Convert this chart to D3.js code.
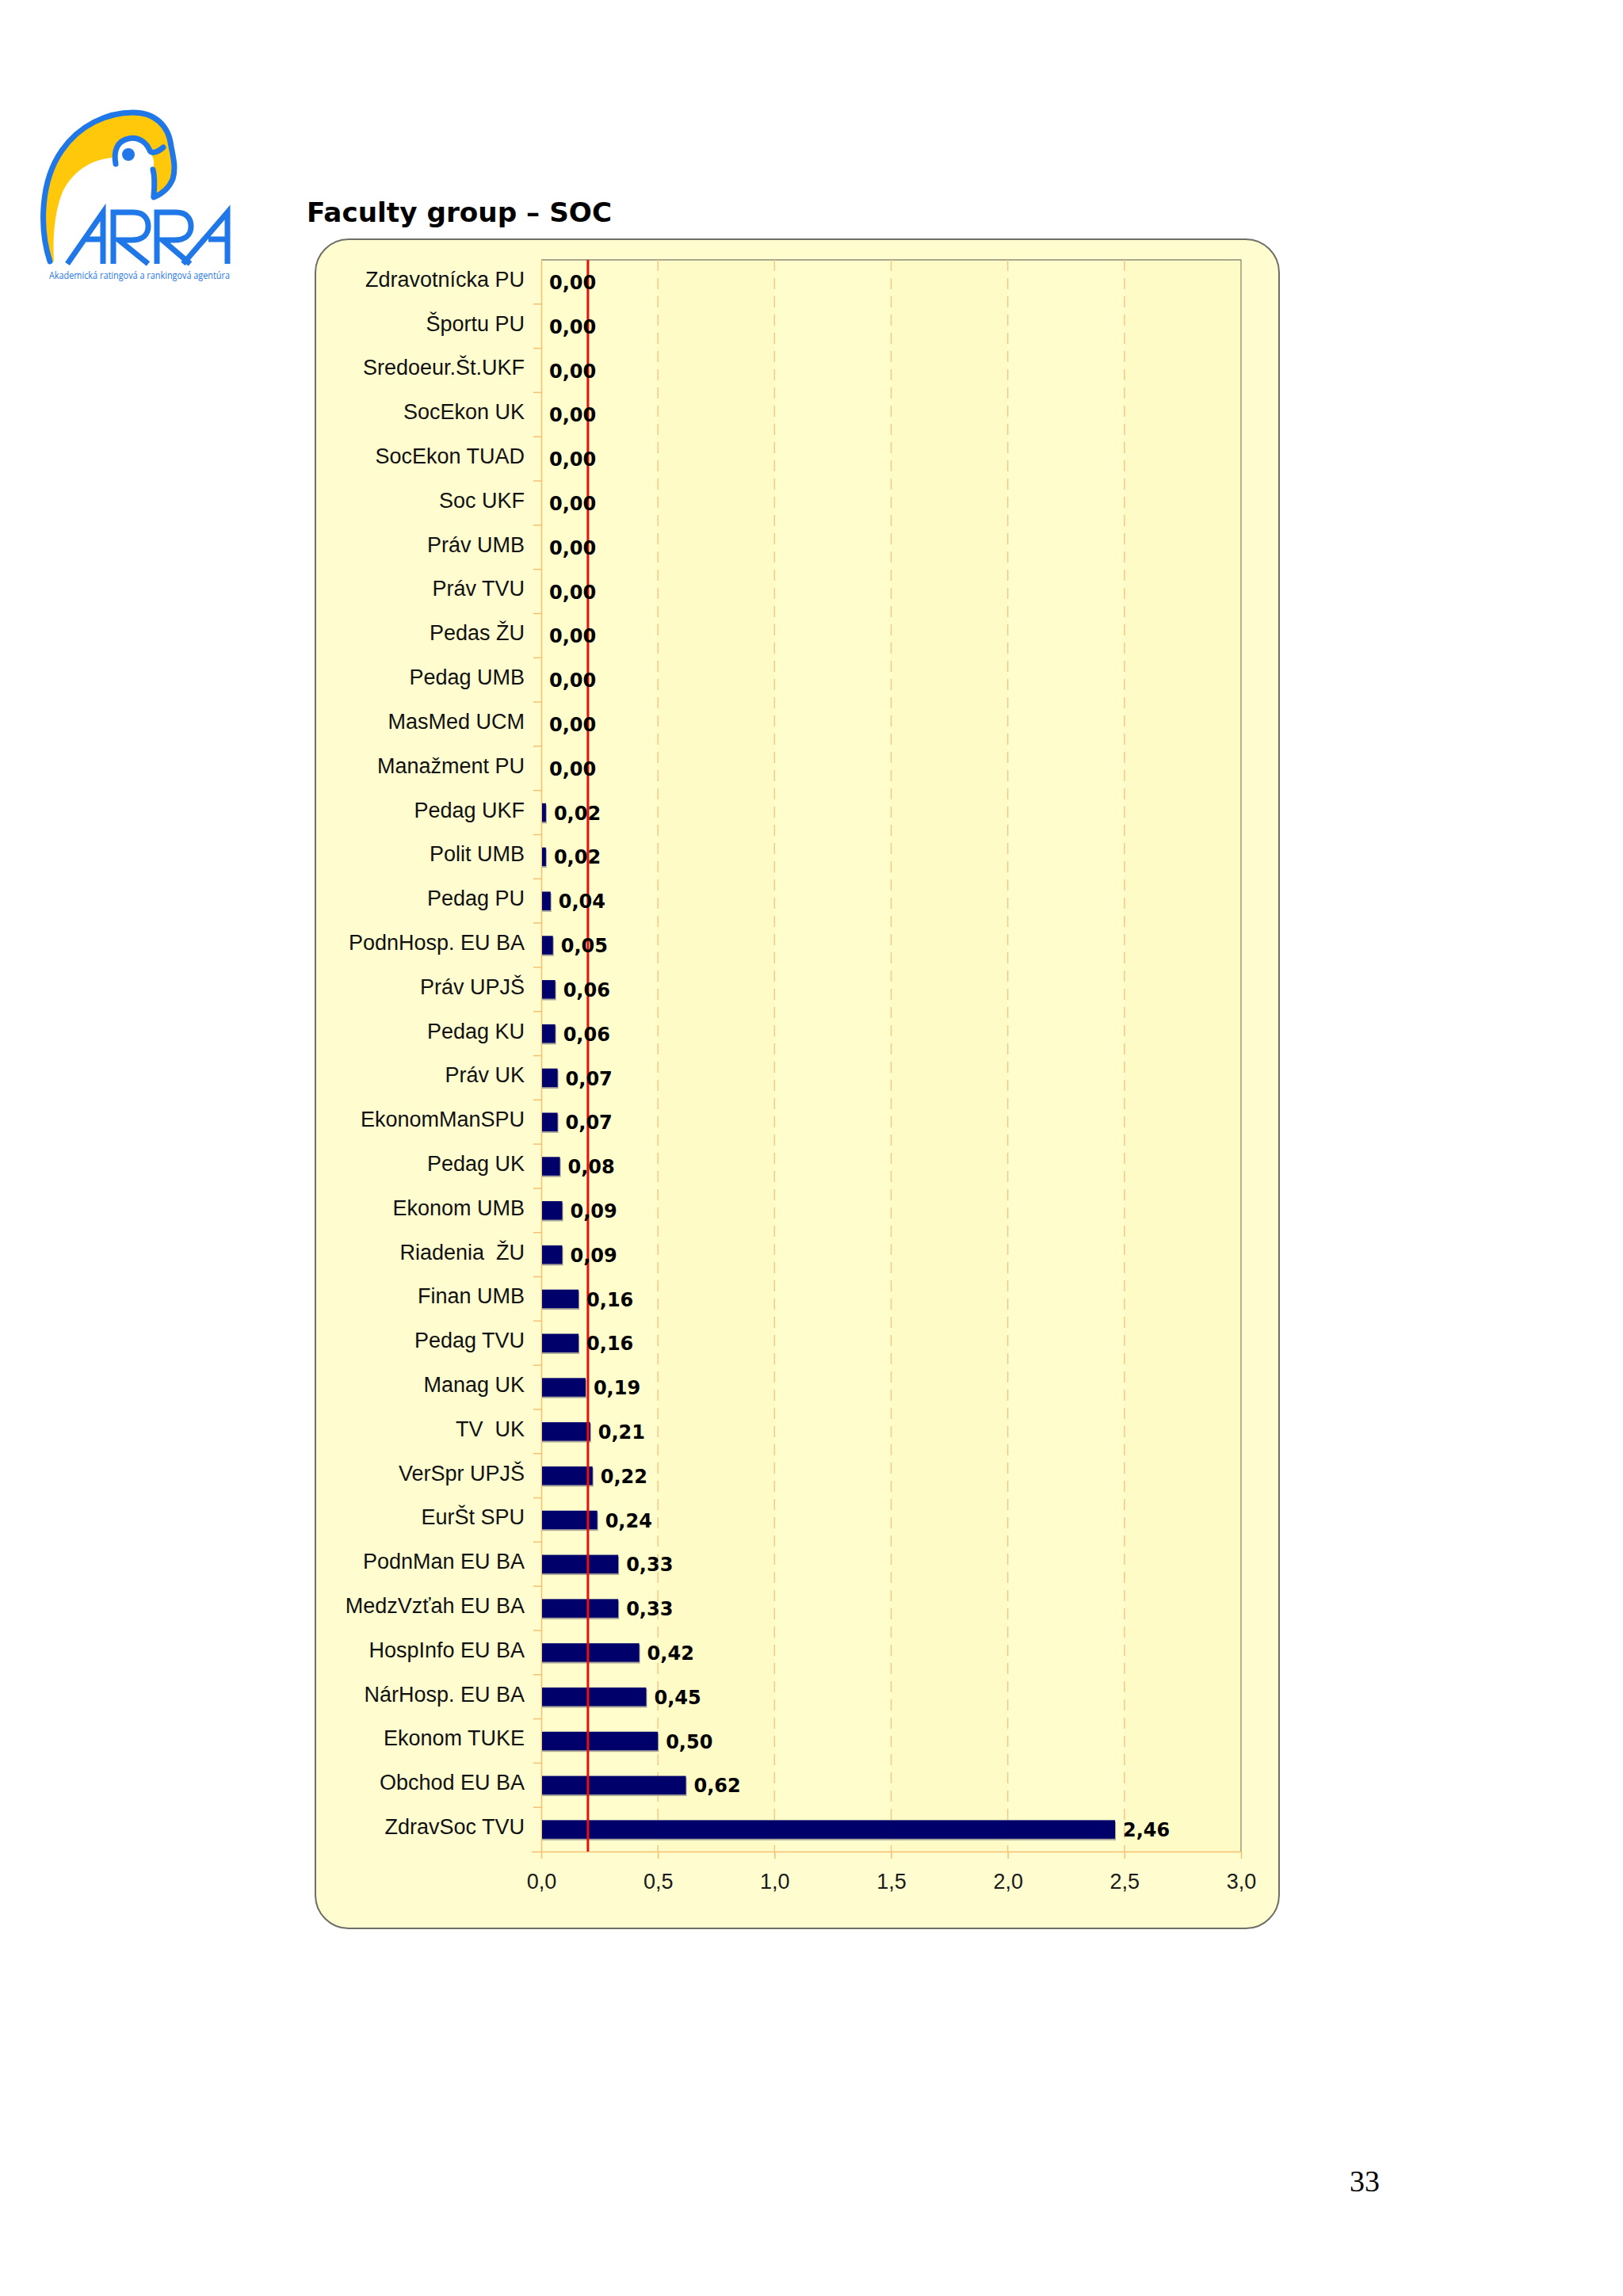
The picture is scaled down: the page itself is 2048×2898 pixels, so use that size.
<!DOCTYPE html>
<html>
<head>
<meta charset="utf-8">
<script src="https://cdn.jsdelivr.net/npm/d3@7"></script>
<style>
  html, body { margin: 0; padding: 0; background: #ffffff; }
  svg { display: block; }
</style>
</head>
<body>
<svg id="page" width="2048" height="2898"></svg>
<script>
// ---------------- DATA ----------------
const categories = [
  "Zdravotnícka PU", "Športu PU", "Sredoeur.Št.UKF", "SocEkon UK", "SocEkon TUAD",
  "Soc UKF", "Práv UMB", "Práv TVU", "Pedas ŽU", "Pedag UMB", "MasMed UCM",
  "Manažment PU", "Pedag UKF", "Polit UMB", "Pedag PU", "PodnHosp. EU BA",
  "Práv UPJŠ", "Pedag KU", "Práv UK", "EkonomManSPU", "Pedag UK", "Ekonom UMB",
  "Riadenia  ŽU", "Finan UMB", "Pedag TVU", "Manag UK", "TV  UK", "VerSpr UPJŠ",
  "EurŠt SPU", "PodnMan EU BA", "MedzVzťah EU BA", "HospInfo EU BA",
  "NárHosp. EU BA", "Ekonom TUKE", "Obchod EU BA", "ZdravSoc TVU"
];
const values = [
  0.00, 0.00, 0.00, 0.00, 0.00,
  0.00, 0.00, 0.00, 0.00, 0.00, 0.00,
  0.00, 0.02, 0.02, 0.04, 0.05,
  0.06, 0.06, 0.07, 0.07, 0.08, 0.09,
  0.09, 0.16, 0.16, 0.19, 0.21, 0.22,
  0.24, 0.33, 0.33, 0.42,
  0.45, 0.50, 0.62, 2.46
];
const xTicks = [0, 0.5, 1.0, 1.5, 2.0, 2.5, 3.0];
const referenceValue = [0.2];
const titleText = "Faculty group – SOC";
const pageNumber = "33";
const logoTagline = "Akademická ratingová a rankingová agentúra";

// ---------------- LAYOUT ----------------
const svg = d3.select("#page");
const plot = { left: 683, right: 1566, top: 328, bottom: 2337 };
const box = { x: 398, y: 302, w: 1614 - 398, h: 2434 - 302, r: 42 };

const x = d3.scaleLinear().domain([0, 3]).range([plot.left, plot.right]);
const y = d3.scaleBand().domain(categories).range([plot.top, plot.bottom])
  .paddingInner(0.58).paddingOuter(0.29);
const fmt = d => d.toFixed(1).replace(".", ",");
const fmt2 = d => d.toFixed(2).replace(".", ",");

// ---------------- LOGO ----------------
const blue = "#1f77e8", yellow = "#ffc80a";
const logo = svg.append("g").attr("class", "logo");
logo.append("path")
  .attr("d", "M63,330 C50,290 50,230 78,190 C100,158 135,142 168,142 C195,142 213,158 216,185 C219,200 222,212 218,226 C213,238 204,245 194,249 C192,235 192,222 193,212 C196,204 193,197 188,190 C182,180 172,174 162,175 C150,176 143,185 144,199 C120,200 95,212 80,240 C70,262 66,295 68,330 Z")
  .attr("fill", yellow);
logo.append("path")
  .attr("d", "M63,330 C50,290 50,230 78,190 C100,158 135,142 168,142 C195,142 213,158 216,185 C219,200 222,212 218,226 C213,238 204,245 194,249")
  .attr("fill", "none").attr("stroke", blue).attr("stroke-width", 7).attr("stroke-linecap", "round");
logo.append("path")
  .attr("d", "M146,207 C143,190 148,178 162,175 C175,172 185,180 189,190 C191,194 198,193 206,186")
  .attr("fill", "none").attr("stroke", blue).attr("stroke-width", 7).attr("stroke-linecap", "round");
logo.append("path")
  .attr("d", "M193,214 C196,225 195,236 194,247")
  .attr("fill", "none").attr("stroke", blue).attr("stroke-width", 7).attr("stroke-linecap", "round");
logo.append("circle").attr("cx", 162).attr("cy", 195).attr("r", 8).attr("fill", blue);
const letters = [
  "M85,333 L130,268 L130,333 M108,302 L130,302",
  "M143,333 L143,268 L168,268 C182,268 187,276 187,286 C187,296 180,303 166,303 L150,303 L187,333",
  "M198,333 L198,268 L222,268 C236,268 241,276 241,286 C241,296 234,303 220,303 L205,303 L240,333",
  "M231,333 L287,268 L287,333 M263,302 L287,302"
];
logo.selectAll("path.letter").data(letters).join("path")
  .attr("class", "letter").attr("d", d => d)
  .attr("fill", "none").attr("stroke", blue).attr("stroke-width", 7)
  .attr("stroke-linejoin", "miter");
logo.append("text").text(logoTagline)
  .attr("x", 62).attr("y", 352)
  .attr("textLength", 228).attr("lengthAdjust", "spacingAndGlyphs")
  .attr("font-family", "'Open Sans', sans-serif").attr("font-size", 12)
  .attr("fill", blue);

// ---------------- TITLE ----------------
svg.append("text").text(titleText)
  .attr("x", 387).attr("y", 280)
  .attr("font-family", "'DejaVu Sans', Verdana, sans-serif")
  .attr("font-weight", "bold").attr("font-size", 34)
  .attr("textLength", 385).attr("lengthAdjust", "spacingAndGlyphs")
  .attr("fill", "#000");

// ---------------- CHART BOX ----------------
svg.append("rect")
  .attr("x", box.x).attr("y", box.y).attr("width", box.w).attr("height", box.h)
  .attr("rx", box.r).attr("ry", box.r)
  .attr("fill", "#fffdcf").attr("stroke", "#6f6f68").attr("stroke-width", 2);

svg.append("rect")
  .attr("x", plot.left).attr("y", plot.top)
  .attr("width", plot.right - plot.left).attr("height", plot.bottom - plot.top)
  .attr("fill", "#fffcc8");

const cols = xTicks.slice(0, -1);
svg.selectAll("rect.col").data(cols).join("rect")
  .attr("class", "col")
  .attr("x", d => x(d)).attr("y", plot.top)
  .attr("width", d => x(d + 0.5) - x(d)).attr("height", plot.bottom - plot.top)
  .attr("fill", (d, i) => i % 2 ? "#fffbc6" : "#fffdcc");

svg.append("path")
  .attr("d", `M${plot.left},${plot.top} H${plot.right} V${plot.bottom}`)
  .attr("fill", "none").attr("stroke", "#8c8a78").attr("stroke-width", 1.3);

svg.selectAll("line.grid").data(xTicks.slice(1, -1)).join("line")
  .attr("class", "grid")
  .attr("x1", d => x(d)).attr("x2", d => x(d))
  .attr("y1", plot.top).attr("y2", plot.bottom)
  .attr("stroke", "#f3c98a").attr("stroke-width", 1.5)
  .attr("stroke-dasharray", "14,9");

// ---------------- AXES ----------------
const xAxis = d3.axisBottom(x).tickValues(xTicks).tickFormat(fmt).tickSize(9).tickPadding(19);
const gx = svg.append("g").attr("transform", `translate(0,${plot.bottom})`).call(xAxis);
gx.select(".domain").attr("stroke", "#f5c070").attr("stroke-width", 1.5)
  .attr("d", `M${plot.left - 12},0.5H${plot.right}`);
gx.selectAll(".tick line").attr("stroke", "#f5c070").attr("stroke-width", 1.5);
gx.selectAll(".tick text")
  .attr("font-family", "'Liberation Sans', Arial, sans-serif")
  .attr("font-size", 27).attr("fill", "#1a1a1a");

const yAxis = d3.axisLeft(y).tickSize(0).tickPadding(21);
const gy = svg.append("g").attr("transform", `translate(${plot.left},0)`).call(yAxis);
gy.select(".domain").attr("stroke", "#f5c070").attr("stroke-width", 1.5)
  .attr("d", `M0.5,${plot.top}V${plot.bottom}`);
gy.selectAll(".tick text")
  .attr("font-family", "'Liberation Sans', Arial, sans-serif")
  .attr("font-size", 27).attr("fill", "#111")
  .attr("dy", "0.22em")
  .style("white-space", "pre");

const boundaries = categories.slice(1).map(c => y(c) - y.step() * y.paddingInner() / 2);
svg.selectAll("line.ctick").data(boundaries).join("line")
  .attr("class", "ctick")
  .attr("x1", plot.left - 10).attr("x2", plot.left)
  .attr("y1", d => d).attr("y2", d => d)
  .attr("stroke", "#f5c070").attr("stroke-width", 1.5);

// ---------------- BARS ----------------
const rows = categories.map((c, i) => ({ c, v: values[i] }));
const bars = svg.append("g");
bars.selectAll("rect.shadow").data(rows.filter(d => d.v > 0)).join("rect")
  .attr("class", "shadow")
  .attr("x", x(0) + 1).attr("y", d => y(d.c) + 2)
  .attr("width", d => Math.max(1, x(d.v) - x(0)))
  .attr("height", y.bandwidth())
  .attr("fill", "#a8a69a");
bars.selectAll("rect.bar").data(rows.filter(d => d.v > 0)).join("rect")
  .attr("class", "bar")
  .attr("x", x(0) + 1).attr("y", d => y(d.c))
  .attr("width", d => Math.max(1, x(d.v) - x(0) - 1))
  .attr("height", y.bandwidth())
  .attr("fill", "#00006a");

svg.selectAll("line.ref").data(referenceValue).join("line")
  .attr("class", "ref")
  .attr("x1", d => x(d)).attr("x2", d => x(d))
  .attr("y1", plot.top).attr("y2", plot.bottom)
  .attr("stroke", "#e8100c").attr("stroke-width", 3);

svg.selectAll("text.val").data(rows).join("text")
  .attr("class", "val")
  .attr("x", d => x(d.v) + 10)
  .attr("y", d => y(d.c) + y.bandwidth() / 2)
  .attr("dy", "0.38em")
  .attr("font-family", "'DejaVu Sans', Verdana, sans-serif")
  .attr("font-weight", "bold").attr("font-size", 24)
  .attr("fill", "#000")
  .text(d => fmt2(d.v));

// ---------------- PAGE NUMBER ----------------
svg.append("text").text(pageNumber)
  .attr("x", 1703).attr("y", 2766)
  .attr("font-family", "'Liberation Serif', 'Times New Roman', serif")
  .attr("font-size", 38).attr("fill", "#000");
</script>
</body>
</html>
